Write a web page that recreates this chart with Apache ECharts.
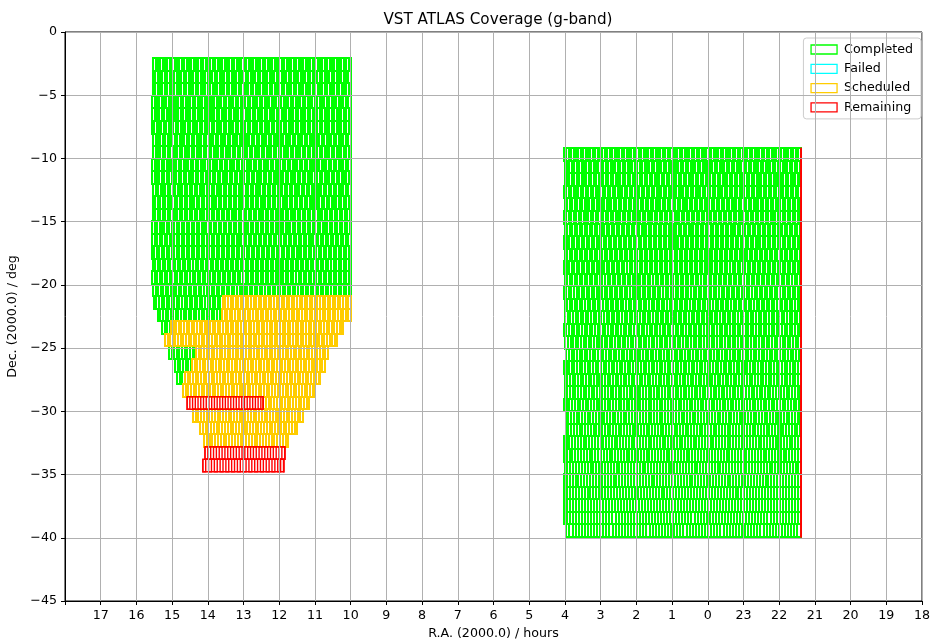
<!DOCTYPE html>
<html>
<head>
<meta charset="utf-8">
<script src="https://cdn.jsdelivr.net/npm/echarts@6/dist/echarts.min.js"></script>
<style>html,body{margin:0;padding:0;background:#fff}#chart{width:936px;height:642px}</style>
</head>
<body>
<div id="chart"></div>
<script>
// ---- Data ----
const statusNames = ['Completed', 'Failed', 'Scheduled', 'Remaining'];
const statusColors = ['#00ff00', '#00ffff', '#ffcc00', '#ff0000'];

// Dec. of the top edge of each tile row (deg)
const leftRowDecs = [-2.08, -3.07, -4.06, -5.05, -6.04, -7.04, -8.03, -9.02, -10.01, -11.00,
  -11.99, -12.98, -13.97, -14.96, -15.95, -16.95, -17.94, -18.93, -19.92, -20.91,
  -21.90, -22.89, -23.88, -24.87, -25.86, -26.86, -27.85, -28.84, -29.83, -30.82,
  -31.81, -32.80, -33.79];
const rightRowDecs = [-9.20, -10.19, -11.18, -12.17, -13.16, -14.16, -15.15, -16.14, -17.13, -18.12,
  -19.11, -20.10, -21.09, -22.08, -23.07, -24.07, -25.06, -26.05, -27.04, -28.03,
  -29.02, -30.01, -31.00, -31.99, -32.98, -33.98, -34.97, -35.96, -36.95, -37.94, -38.93];
const rowHeight = 0.99;   // deg
const tileSize = 1.0;     // deg

// Row segments: [rowDecTop, raEast (h), raWest (h)]
const completedSegments = [
  [-2.08, 15.53, 10.0], [-3.07, 15.54, 10.0], [-4.06, 15.54, 10.0], [-5.05, 15.56, 10.0],
  [-6.04, 15.56, 10.0], [-7.04, 15.57, 10.0], [-8.03, 15.53, 10.0], [-9.02, 15.53, 10.0],
  [-10.01, 15.56, 10.0], [-11.00, 15.56, 10.0], [-11.99, 15.53, 10.0], [-12.98, 15.54, 10.0],
  [-13.97, 15.54, 10.0], [-14.96, 15.56, 10.0], [-15.95, 15.56, 10.0], [-16.95, 15.57, 10.0],
  [-17.94, 15.54, 10.0], [-18.93, 15.56, 10.0], [-19.92, 15.53, 10.0],
  [-20.91, 15.51, 13.58], [-21.90, 15.40, 13.60], [-22.89, 15.28, 15.03],
  [-24.87, 15.09, 14.33], [-25.86, 14.92, 14.44], [-26.86, 14.86, 14.64],
  [-9.20, 4.03, 21.39], [-10.19, 4.01, 21.39], [-11.18, 4.01, 21.39], [-12.17, 4.03, 21.39],
  [-13.16, 4.00, 21.39], [-14.16, 4.03, 21.39], [-15.15, 4.00, 21.39], [-16.14, 4.02, 21.39],
  [-17.13, 4.00, 21.39], [-18.12, 4.02, 21.39], [-19.11, 4.01, 21.39], [-20.10, 4.03, 21.39],
  [-21.09, 4.01, 21.39], [-22.08, 3.99, 21.39], [-23.07, 4.03, 21.39], [-24.07, 3.99, 21.39],
  [-25.06, 3.96, 21.39], [-26.05, 4.03, 21.39], [-27.04, 4.01, 21.39], [-28.03, 4.01, 21.39],
  [-29.02, 4.03, 21.39], [-30.01, 3.98, 21.39], [-31.00, 3.98, 21.39], [-31.99, 4.03, 21.39],
  [-32.98, 4.03, 21.39], [-33.98, 4.01, 21.39], [-34.97, 4.03, 21.39], [-35.96, 4.03, 21.39],
  [-36.95, 4.03, 21.39], [-37.94, 4.03, 21.39], [-38.93, 3.96, 21.39]
];
const failedSegments = [];
const scheduledSegments = [
  [-20.91, 13.58, 10.0], [-21.90, 13.60, 10.0], [-22.89, 15.03, 10.22], [-23.88, 15.20, 10.38],
  [-24.87, 14.33, 10.63], [-25.86, 14.44, 10.72], [-26.86, 14.64, 10.86], [-27.85, 14.70, 11.03],
  [-28.84, 12.45, 11.17], [-29.83, 14.42, 11.34], [-30.82, 14.22, 11.50], [-31.81, 14.11, 11.76]
];
const remainingSegments = [
  [-28.84, 14.58, 12.45], [-32.80, 14.08, 11.84], [-33.79, 14.14, 11.87],
  [-9.20, 21.39, 21.38], [-10.19, 21.39, 21.38], [-11.18, 21.39, 21.38], [-12.17, 21.39, 21.38],
  [-13.16, 21.39, 21.38], [-14.16, 21.39, 21.38], [-15.15, 21.39, 21.38], [-16.14, 21.39, 21.38],
  [-17.13, 21.39, 21.38], [-18.12, 21.39, 21.38], [-19.11, 21.39, 21.38], [-20.10, 21.39, 21.38],
  [-21.09, 21.39, 21.38], [-22.08, 21.39, 21.38], [-23.07, 21.39, 21.38], [-24.07, 21.39, 21.38],
  [-25.06, 21.39, 21.38], [-26.05, 21.39, 21.38], [-27.04, 21.39, 21.38], [-28.03, 21.39, 21.38],
  [-29.02, 21.39, 21.38], [-30.01, 21.39, 21.38], [-31.00, 21.39, 21.38], [-31.99, 21.39, 21.38],
  [-32.98, 21.39, 21.38], [-33.98, 21.39, 21.38], [-34.97, 21.39, 21.38], [-35.96, 21.39, 21.38],
  [-36.95, 21.39, 21.38], [-37.94, 21.39, 21.38], [-38.93, 21.39, 21.38]
];

// Tick labels (left to right / bottom to top)
const raTickLabels = ['', '17', '16', '15', '14', '13', '12', '11', '10', '9', '8', '7', '6',
  '5', '4', '3', '2', '1', '0', '23', '22', '21', '20', '19', '18'];
const decTickLabels = ['\u221245', '\u221240', '\u221235', '\u221230', '\u221225', '\u221220',
  '\u221215', '\u221210', '\u22125', '0'];

const titleText = 'VST ATLAS Coverage (g-band)';
const xName = 'R.A. (2000.0) / hours';
const yName = 'Dec. (2000.0) / deg';

// ---- Build chart ----
const FONT = 'DejaVu Sans';
const FS = 12.65;
function raToAxis(ra) { return ra > 18 ? ra - 24 : ra; }
function toItems(segs) {
  return segs.map(s => [raToAxis(s[1]), raToAxis(s[2]), s[0], s[0] - rowHeight]);
}
const segmentSets = [completedSegments, failedSegments, scheduledSegments, remainingSegments];

function makeRender(color, lw, snap) {
  const R = snap ? Math.round : (v => v);
  return function (params, api) {
    const a0 = api.value(0), a1 = api.value(1), d0 = api.value(2), d1 = api.value(3);
    const p0 = api.coord([a0, d0]);
    const p1 = api.coord([a1, d1]);
    const x0 = Math.min(p0[0], p1[0]), x1 = Math.max(p0[0], p1[0]);
    const yT = R(Math.min(p0[1], p1[1])), yB = R(Math.max(p0[1], p1[1]));
    const decMid = (d0 + d1) / 2;
    const tileHours = tileSize / (15 * Math.cos(decMid * Math.PI / 180));
    const w = Math.abs(api.coord([a0 + tileHours, d0])[0] - p0[0]);
    const pts = [[R(x0), yT], [R(x0), yB]];
    let cur = x0, atBottom = true;
    while (cur < x1 - 0.05) {
      const nx = Math.min(cur + w, x1);
      pts.push([R(nx), atBottom ? yB : yT]);
      pts.push([R(nx), atBottom ? yT : yB]);
      atBottom = !atBottom;
      cur = nx;
    }
    const st = { fill: null, stroke: color, lineWidth: lw };
    return {
      type: 'group',
      children: [
        { type: 'rect', shape: { x: R(x0), y: yT, width: R(x1) - R(x0), height: yB - yT }, style: st },
        { type: 'polyline', shape: { points: pts }, style: st }
      ]
    };
  };
}

const series = statusNames.map((name, i) => ({
  name: name,
  type: 'custom',
  renderItem: i === 3 ? makeRender(statusColors[i], 1.4, false) : makeRender(statusColors[i], 2, true),
  data: toItems(segmentSets[i]),
  encode: { x: [0, 1], y: [2, 3] },
  itemStyle: { color: 'transparent', borderColor: statusColors[i] },
  silent: true,
  animation: false,
  z: 2
}));

const chart = echarts.init(document.getElementById('chart'), null, { renderer: 'canvas' });
chart.setOption({
  animation: false,
  backgroundColor: '#ffffff',
  title: {
    text: titleText,
    left: 493, top: 8, textAlign: 'center',
    textStyle: { fontFamily: FONT, fontSize: 15.2, fontWeight: 'normal', color: '#000' }
  },
  legend: {
    orient: 'vertical',
    right: 15, top: 38,
    padding: [5, 8, 5, 7],
    itemGap: 6.3,
    itemWidth: 26, itemHeight: 9,
    backgroundColor: 'rgba(255,255,255,0.8)',
    borderColor: '#cccccc', borderWidth: 1, borderRadius: 3,
    textStyle: { fontFamily: FONT, fontSize: FS, color: '#000', padding: [0, 0, 0, 2] },
    data: statusNames.map((n, i) => ({
      name: n, icon: 'rect',
      itemStyle: { color: 'transparent', borderColor: statusColors[i], borderWidth: 1.3 }
    }))
  },
  grid: {
    left: 65, right: 14, top: 32, bottom: 41,
    containLabel: false, outerBoundsMode: 'none',
    show: true, borderColor: '#000', borderWidth: 1, backgroundColor: 'transparent'
  },
  xAxis: {
    type: 'value', inverse: true, min: -6, max: 18, interval: 1,
    z: 10,
    name: xName, nameLocation: 'middle', nameGap: 24,
    nameTextStyle: { fontFamily: FONT, fontSize: FS, color: '#000' },
    axisLine: { show: true, onZero: false, lineStyle: { color: '#000', width: 1 } },
    axisTick: { show: true, length: 4, lineStyle: { color: '#000' } },
    axisLabel: {
      fontFamily: FONT, fontSize: FS, color: '#000', margin: 8, interval: 0,
      showMinLabel: true, showMaxLabel: true,
      formatter: v => raTickLabels[Math.round(18 - v)]
    },
    splitLine: { show: true, lineStyle: { color: '#b0b0b0', width: 1 } }
  },
  yAxis: {
    type: 'value', min: -45, max: 0, interval: 5,
    z: 10,
    name: yName, nameLocation: 'middle', nameGap: 36, nameRotate: 90,
    nameTextStyle: { fontFamily: FONT, fontSize: FS, color: '#000' },
    axisLine: { show: true, onZero: false, lineStyle: { color: '#000', width: 1 } },
    axisTick: { show: true, length: 4, lineStyle: { color: '#000' } },
    axisLabel: {
      fontFamily: FONT, fontSize: FS, color: '#000', margin: 8,
      showMinLabel: true, showMaxLabel: true,
      formatter: v => decTickLabels[Math.round((v + 45) / 5)]
    },
    splitLine: { show: true, lineStyle: { color: '#b0b0b0', width: 1 } }
  },
  series: series
});
</script>
</body>
</html>
